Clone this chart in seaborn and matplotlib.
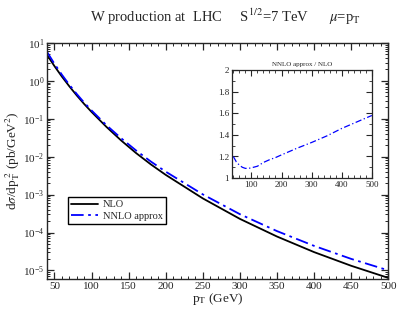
import numpy as np
import pandas as pd
import matplotlib
matplotlib.use('Agg')
import matplotlib.pyplot as plt
import seaborn as sns
from matplotlib.ticker import MultipleLocator, FixedLocator, LogFormatterSciNotation, NullFormatter

# values
pt = [40, 50, 60, 70, 80, 90, 100, 120, 140, 160, 180, 200, 250, 300, 350, 400, 450, 500]
nlo = [4.79, 2.43, 1.29, 0.716, 0.412, 0.245, 0.151, 0.0610, 0.0266, 0.01245, 0.00624,
       0.00331, 7.94e-4, 2.29e-4, 7.85e-5, 3.05e-5, 1.33e-5, 6.38e-6]
ratio = [1.20, 1.15, 1.12, 1.10, 1.09, 1.09, 1.095, 1.11, 1.145, 1.17, 1.19,
         1.215, 1.275, 1.33, 1.39, 1.46, 1.52, 1.58]
main_yticks = [1e-5, 1e-4, 1e-3, 1e-2, 1e-1, 1e0, 1e1]
inset_yticks = [1.0, 1.2, 1.4, 1.6, 1.8, 2.0]
inset_ylabels = ['1', '1.2', '1.4', '1.6', '1.8', '2']

df = pd.DataFrame({'pt': pt, 'nlo': nlo, 'ratio': ratio})
df['nnlo'] = df['nlo'] * df['ratio']

sns.set_style('ticks')
plt.rcParams['font.family'] = ['Liberation Serif', 'DejaVu Serif']
plt.rcParams['mathtext.fontset'] = 'stix'
plt.rcParams['xtick.direction'] = 'in'
plt.rcParams['ytick.direction'] = 'in'

fig = plt.figure(figsize=(3.99, 3.13), dpi=100)
ax = fig.add_axes([0.118, 0.109, 0.855, 0.754])

sns.lineplot(data=df, x='pt', y='nlo', ax=ax, color='black', lw=1.3, label='NLO')
sns.lineplot(data=df, x='pt', y='nnlo', ax=ax, color='#0000ff', lw=1.3,
             dashes=False, label='NNLO approx')
ax.lines[1].set_dashes([7, 2.5, 1.5, 2.5])

ax.set_yscale('log')
ax.set_xlim(40, 500)
ax.set_ylim(6e-6, 10)
ax.xaxis.set_major_locator(MultipleLocator(50))
ax.xaxis.set_minor_locator(MultipleLocator(10))
ax.yaxis.set_major_locator(FixedLocator(main_yticks))
ax.yaxis.set_major_formatter(LogFormatterSciNotation())
minor = [m * t for t in [1e-6] + main_yticks[:-1] for m in range(2, 10)]
minor = [v for v in minor if 6e-6 <= v <= 10]
ax.yaxis.set_minor_locator(FixedLocator(minor))
ax.yaxis.set_minor_formatter(NullFormatter())
ax.tick_params(which='both', top=True, right=True, labelsize=8, pad=2)
ax.tick_params(which='major', length=5, width=0.9)
ax.tick_params(which='minor', length=2.5, width=0.7)
for s in ax.spines.values():
    s.set_linewidth(1.0)

ax.set_xlabel(r'p$_{\rm T}$ (GeV)', fontsize=9.5, labelpad=0)
ax.set_ylabel(r'd$\sigma$/dp$_{\rm T}^{\ 2}$ (pb/GeV$^2$)', fontsize=9.5, labelpad=1)

leg = ax.legend(loc='upper left', bbox_to_anchor=(0.045, 0.37), fontsize=7.5,
                frameon=True, fancybox=False, edgecolor='black', framealpha=1,
                handlelength=2.6, handletextpad=0.5, borderpad=0.3, labelspacing=0.2)
leg.get_frame().set_linewidth(1.0)

fig.text(0.565, 0.945, r'W production at  LHC     S$^{1/2}$=7 TeV      $\mu$=p$_{\rm T}$',
         ha='center', va='center', fontsize=10.5)

# inset with the ratio
ins = fig.add_axes([0.581, 0.431, 0.351, 0.345])
sns.lineplot(data=df, x='pt', y='ratio', ax=ins, color='#0000ff', lw=0.9)
ins.lines[0].set_dashes([5, 2, 1, 2])
ins.set_xlim(35, 500)
ins.set_ylim(1, 2)
ins.set_xticks([100, 200, 300, 400, 500])
ins.xaxis.set_minor_locator(MultipleLocator(20))
ins.set_yticks(inset_yticks)
ins.set_yticklabels(inset_ylabels)
ins.yaxis.set_minor_locator(MultipleLocator(0.1))
ins.tick_params(which='both', top=True, right=True, labelsize=6.5, pad=2)
ins.tick_params(which='major', length=4, width=0.8)
ins.tick_params(which='minor', length=2, width=0.6)
ins.set_xlabel('')
ins.set_ylabel('')
ins.set_title('NNLO approx / NLO', fontsize=5, pad=3)
for s in ins.spines.values():
    s.set_linewidth(0.9)

fig.savefig('out.png', dpi=100)
